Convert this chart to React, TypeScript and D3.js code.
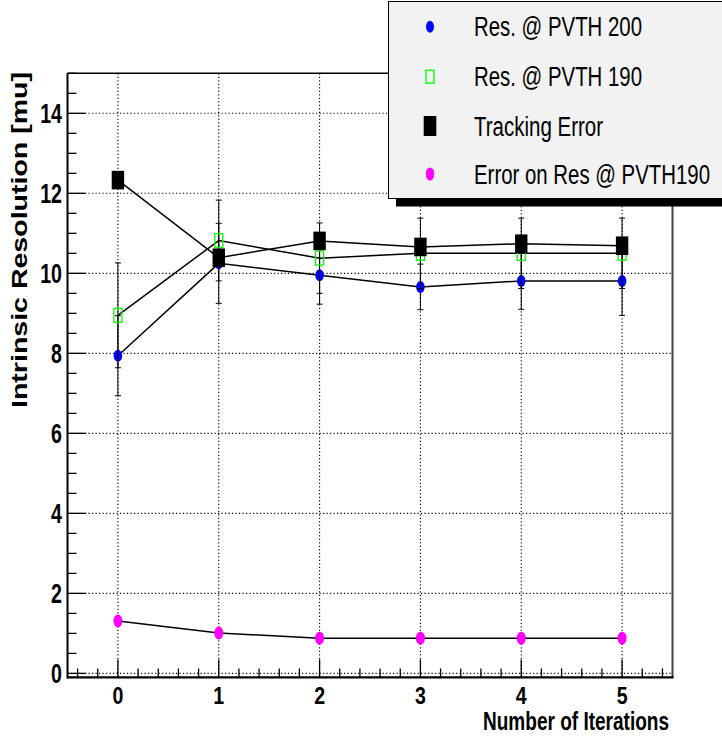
import React from 'react';
import * as d3 from 'd3';

const iterations = [0, 1, 2, 3, 4, 5];
const resPVTH200 = [7.94, 10.25, 9.95, 9.66, 9.81, 9.81];
const resPVTH200Err = [1.0, 1.0, 0.72, 0.57, 0.71, 0.86];
const resPVTH190 = [8.95, 10.82, 10.38, 10.5, 10.5, 10.5];
const trackingError = [12.33, 10.39, 10.81, 10.66, 10.74, 10.69];
const errOnRes190 = [1.31, 1.01, 0.88, 0.88, 0.88, 0.88];
const yTickLabels = [0, 2, 4, 6, 8, 10, 12, 14];
const xTickLabels = [0, 1, 2, 3, 4, 5];
const legendLabels = ['Res. @ PVTH 200', 'Res. @ PVTH 190', 'Tracking Error', 'Error on Res @ PVTH190'];

const W = 722, H = 738;
const L = 67.5, R = 672.5, T = 73.3, B = 677.4;

export default function App() {
  const x = d3.scaleLinear().domain([-0.5, 5.5]).range([L, R]);
  const y = d3.scaleLinear().domain([-0.1, 15]).range([B, T]);
  const line = d3.line<number>().x((_, i) => x(iterations[i])).y(d => y(d));

  const yMinor = d3.range(0, 15.01, 0.5);
  const xMinor = d3.range(-0.4, 5.41, 0.2).filter(v => Math.abs(v - Math.round(v)) > 0.01);

  const font = '"Liberation Sans", Arial, Helvetica, sans-serif';
  const cap = 3;

  const errBars = (vals: number[], errs: number[]) =>
    vals.map((v, i) => {
      const cx = x(iterations[i]);
      const y1 = y(v + errs[i]);
      const y2 = y(v - errs[i]);
      return (
        <g key={i} stroke="#000" strokeWidth={1}>
          <line x1={cx} x2={cx} y1={y1} y2={y2} />
          <line x1={cx - cap} x2={cx + cap} y1={y1} y2={y1} />
          <line x1={cx - cap} x2={cx + cap} y1={y2} y2={y2} />
        </g>
      );
    });

  const legendY = [26.7, 76.7, 126, 174];
  const legendLen = [168, 168, 129, 236];
  const lx = 430;

  return (
    <svg width={W} height={H} style={{ position: 'absolute', left: 0, top: 0, background: '#fff' }}>
      {/* grid */}
      <g stroke="#000" strokeWidth={1.1} strokeDasharray="1.2,2.3">
        {xTickLabels.map(v => (
          <line key={'gx' + v} x1={x(v)} x2={x(v)} y1={T} y2={B} />
        ))}
        {yTickLabels.map(v => (
          <line key={'gy' + v} x1={L} x2={R} y1={y(v)} y2={y(v)} />
        ))}
      </g>
      {/* ticks */}
      <g stroke="#000" strokeWidth={1.3}>
        {yMinor.map(v => {
          const major = Math.abs(v / 2 - Math.round(v / 2)) < 0.01;
          return <line key={'ty' + v} x1={L} x2={L + (major ? 18 : 9)} y1={y(v)} y2={y(v)} />;
        })}
        {xTickLabels.map(v => (
          <line key={'tx' + v} x1={x(v)} x2={x(v)} y1={B} y2={B - 18} />
        ))}
        {xMinor.map(v => (
          <line key={'tm' + v} x1={x(v)} x2={x(v)} y1={B} y2={B - 9} />
        ))}
      </g>
      {/* frame */}
      <line x1={L} x2={R} y1={T} y2={T} stroke="#000" strokeWidth={1.5} />
      <line x1={R} x2={R} y1={T} y2={B} stroke="#444" strokeWidth={2} />
      <line x1={L} x2={L} y1={T} y2={B + 1} stroke="#000" strokeWidth={2} />
      <line x1={L} x2={R + 1} y1={B} y2={B} stroke="#000" strokeWidth={2.2} />

      {/* tick labels */}
      <g fontFamily={font} fontWeight="bold" fill="#000">
        {yTickLabels.map(v => (
          <text key={'yl' + v} textAnchor="end" fontSize={28} transform={`translate(62,${y(v) + 10}) scale(0.7,1)`}>
            {v}
          </text>
        ))}
        {xTickLabels.map(v => (
          <text key={'xl' + v} textAnchor="middle" transform={`translate(${x(v)},704) scale(0.8,1)`} fontSize={24.5}>
            {v}
          </text>
        ))}
      </g>
      {/* axis titles */}
      <text
        fontFamily={font}
        fontWeight="bold"
        fontSize={22.5}
        transform={`translate(27,408) rotate(-90)`}
        textLength={336}
        lengthAdjust="spacingAndGlyphs"
      >
        Intrinsic Resolution [mu]
      </text>
      <text
        fontFamily={font}
        fontWeight="bold"
        fontSize={26}
        x={483}
        y={730}
        textLength={186}
        lengthAdjust="spacingAndGlyphs"
      >
        Number of Iterations
      </text>

      {/* series: blue */}
      <path d={line(resPVTH200) || ''} fill="none" stroke="#000" strokeWidth={1.5} />
      {errBars(resPVTH200, resPVTH200Err)}
      {resPVTH200.map((v, i) => (
        <ellipse key={'b' + i} cx={x(iterations[i])} cy={y(v)} rx={4.3} ry={6} fill="#0000ff" />
      ))}
      {/* series: green */}
      <path d={line(resPVTH190) || ''} fill="none" stroke="#000" strokeWidth={1.5} />
      {errBars(resPVTH190, errOnRes190)}
      {resPVTH190.map((v, i) => (
        <rect key={'g' + i} x={x(iterations[i]) - 4} y={y(v) - 7} width={8} height={14} fill="none" stroke="#00ff00" strokeWidth={1.3} />
      ))}
      {/* series: black */}
      <path d={line(trackingError) || ''} fill="none" stroke="#000" strokeWidth={1.5} />
      {trackingError.map((v, i) => (
        <rect key={'k' + i} x={x(iterations[i]) - 6.2} y={y(v) - 9.3} width={12.4} height={18.6} fill="#000" />
      ))}
      {/* series: magenta */}
      <path d={line(errOnRes190) || ''} fill="none" stroke="#000" strokeWidth={1.5} />
      {errOnRes190.map((v, i) => (
        <ellipse key={'m' + i} cx={x(iterations[i])} cy={y(v)} rx={4.5} ry={6.5} fill="#ff00ff" />
      ))}

      {/* legend */}
      <rect x={396} y={198} width={400} height={8.5} fill="#000" />
      <rect x={388.5} y={1.5} width={400} height={197} fill="#f2f2f2" stroke="#000" strokeWidth={1} />
      <ellipse cx={lx} cy={legendY[0]} rx={4} ry={6} fill="#0000ff" />
      <rect x={lx - 4} y={legendY[1] - 6.5} width={8} height={13} fill="none" stroke="#00ff00" strokeWidth={1.3} />
      <rect x={lx - 6.3} y={legendY[2] - 10} width={12.6} height={20} fill="#000" />
      <ellipse cx={lx} cy={legendY[3]} rx={4.2} ry={6.6} fill="#ff00ff" />
      <g fontFamily={font} fontSize={27} fill="#000">
        {legendLabels.map((t, i) => (
          <text key={t} x={474} y={legendY[i] + 9.7} textLength={legendLen[i]} lengthAdjust="spacingAndGlyphs">
            {t}
          </text>
        ))}
      </g>
    </svg>
  );
}
